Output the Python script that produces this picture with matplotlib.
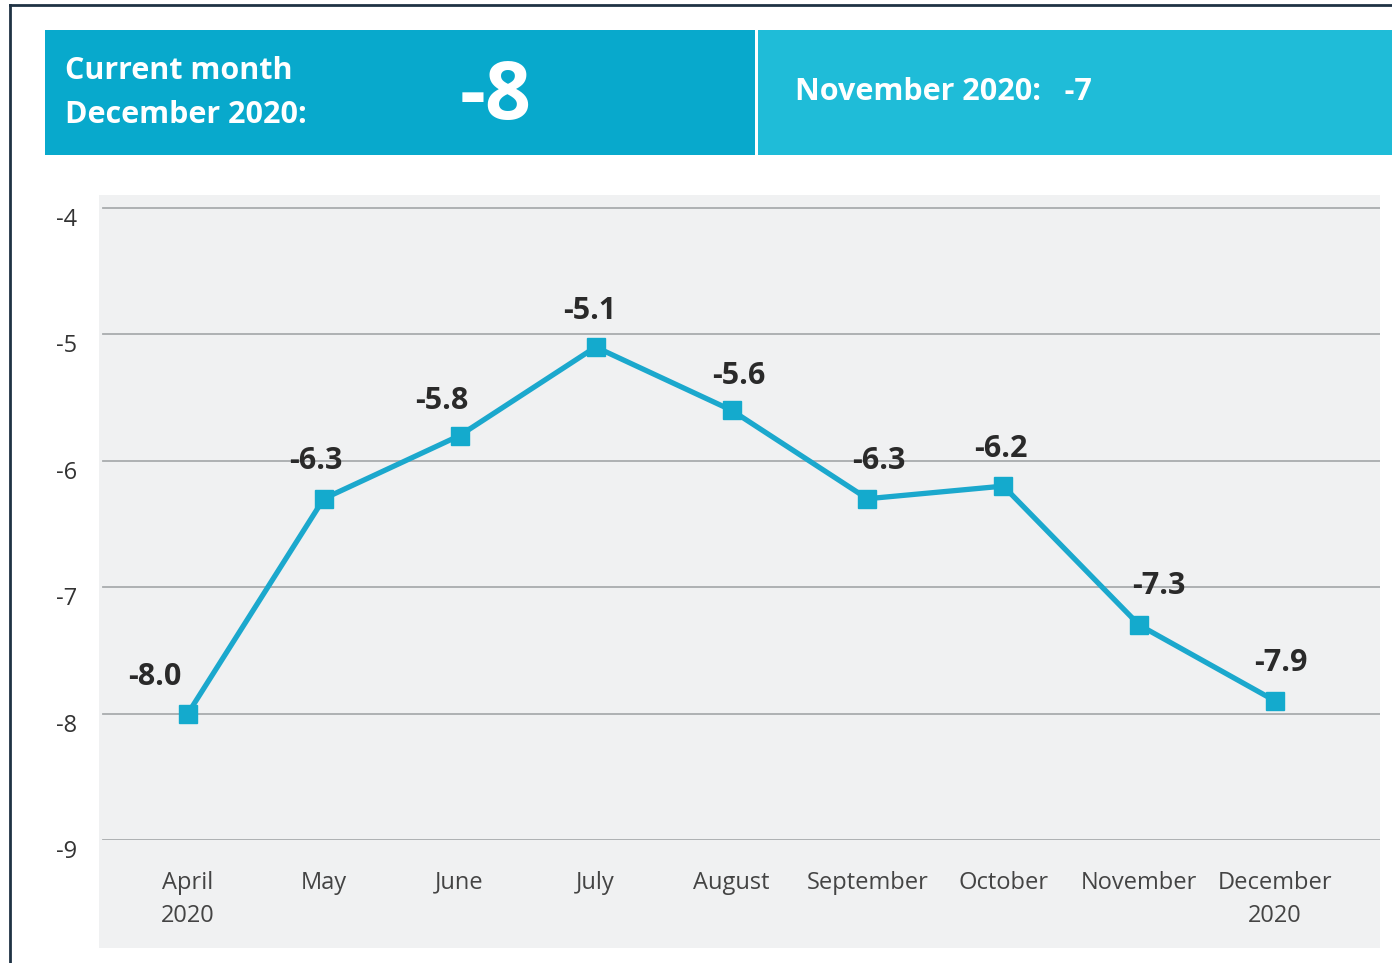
import matplotlib.pyplot as plt
from matplotlib.patches import Rectangle
from matplotlib.lines import Line2D

# data
months = ["April\n2020", "May", "June", "July", "August",
          "September", "October", "November", "December\n2020"]
values = [-8.0, -6.3, -5.8, -5.1, -5.6, -6.3, -6.2, -7.3, -7.9]
yticks = [-9, -8, -7, -6, -5, -4]
current_label = "Current month\nDecember 2020:"
current_value = "-8"
previous_label = "November 2020:   -7"

# label offsets (points) relative to each marker
label_offsets = [(-24, 26), (-6, 27), (-13, 25), (-4, 26), (5, 25),
                 (8, 27), (-2, 27), (14, 28), (4, 27)]

W, H = 1392, 963
fig = plt.figure(figsize=(W / 100, H / 100), dpi=100)
plt.rcParams['font.family'] = ['Open Sans', 'DejaVu Sans']

def fx(px):
    return px / W

def fy(py):
    return 1 - py / H

# outer frame lines (top and left)
fig.add_artist(Line2D([fx(10), 1], [fy(5), fy(5)], color="#1f3244", lw=2))
fig.add_artist(Line2D([fx(10), fx(10)], [0, fy(5)], color="#1f3244", lw=2))

# header boxes
fig.add_artist(Rectangle((fx(45), fy(155)), fx(755 - 45), (155 - 30) / H,
                         color="#08a9cc", lw=0))
fig.add_artist(Rectangle((fx(758), fy(155)), fx(W - 758), (155 - 30) / H,
                         color="#1fbcd8", lw=0))
fig.text(fx(65), fy(93), current_label, color="white", fontsize=22,
         fontweight="bold", va="center", ha="left", linespacing=1.6)
fig.text(fx(496), fy(98), current_value, color="white", fontsize=58,
         fontweight="bold", va="center", ha="center")
fig.text(fx(795), fy(92), previous_label, color="white", fontsize=22,
         fontweight="bold", va="center", ha="left")

# gray plot background
fig.add_artist(Rectangle((fx(99), fy(948)), fx(1380 - 99), (948 - 195) / H,
                         color="#f0f1f2", lw=0, zorder=0))

ax = fig.add_axes([fx(98), fy(840), fx(1380 - 98), (840 - 195) / H])
ax.patch.set_alpha(0)
for s in ax.spines.values():
    s.set_visible(False)

x = list(range(len(months)))
ax.set_xlim(-0.661, 8.771)
ax.set_ylim(-9, -3.897)

for yv in yticks:
    ax.axhline(yv, xmin=0.004, xmax=1, color="#a9acae", lw=1.3, zorder=1)

ax.plot(x, values, color="#1ba8cd", lw=3.8, marker="s", markersize=13,
        markerfacecolor="#14aacd", markeredgecolor="#14aacd", zorder=3)

for xi, v, off in zip(x, values, label_offsets):
    ax.annotate(f"{v:.1f}", (xi, v), xytext=off, textcoords="offset points",
                ha="center", va="center", fontsize=22, color="#2a2a2a",
                fontweight="bold", zorder=4)

ax.set_yticks(yticks)
ax.set_yticklabels([str(t) for t in yticks], fontsize=17, color="#333333",
                   va="top")
ax.set_xticks(x)
ax.set_xticklabels(months, fontsize=17, color="#444444", linespacing=1.5)
ax.tick_params(axis="y", length=0, pad=15)
ax.tick_params(axis="x", length=0, pad=22)

fig.savefig("out.png", dpi=100)
